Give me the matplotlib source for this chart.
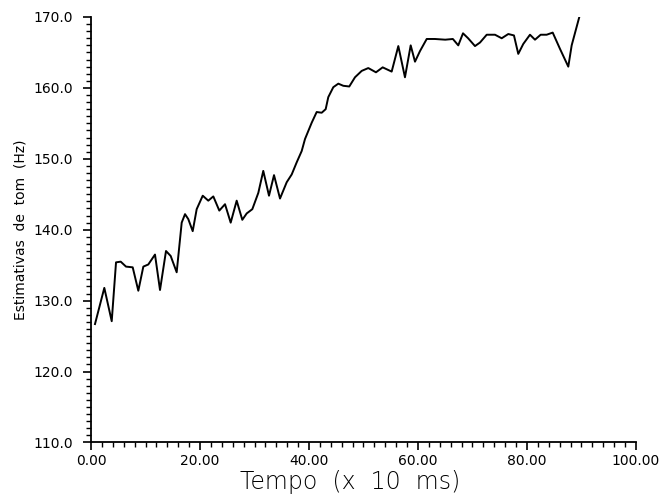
import matplotlib
matplotlib.use("Agg")
import matplotlib.pyplot as plt
from matplotlib.ticker import MultipleLocator, FormatStrFormatter

# pitch estimates
tempo = [0.73, 2.44, 3.80, 4.59, 5.45, 6.42, 7.65, 8.68, 9.60, 10.51,
         11.74, 12.66, 13.76, 14.62, 15.72, 16.64, 17.25, 17.85, 18.66, 19.39,
         20.50, 21.52, 22.44, 23.54, 24.59, 25.63, 26.73, 27.76, 28.57, 29.60,
         30.70, 31.61, 32.66, 33.58, 34.68, 35.91, 36.83, 37.74, 38.66, 39.27,
         40.50, 41.41, 42.33, 43.06, 43.54, 44.46, 45.38, 46.29, 47.39, 48.44,
         49.67, 50.88, 52.29, 53.52, 55.17, 56.39, 57.61, 58.66, 59.45, 60.37,
         61.60, 63.10, 65.00, 66.40, 67.39, 68.26, 69.20, 70.46, 71.38, 72.61,
         74.13, 75.36, 76.57, 77.61, 78.40, 79.32, 80.55, 81.47, 82.51, 83.61,
         84.72, 86.06, 87.58, 88.20, 89.60]
tom = [126.7, 131.8, 127.1, 135.4, 135.5, 134.8, 134.7, 131.4, 134.8, 135.1,
       136.5, 131.5, 137.0, 136.3, 134.0, 141.0, 142.2, 141.5, 139.8, 142.9,
       144.8, 144.1, 144.7, 142.7, 143.6, 141.0, 144.1, 141.4, 142.3, 142.9,
       145.2, 148.3, 144.8, 147.7, 144.4, 146.7, 147.8, 149.5, 151.1, 152.8,
       155.1, 156.6, 156.5, 157.0, 158.7, 160.1, 160.6, 160.3, 160.2, 161.5,
       162.4, 162.8, 162.2, 162.9, 162.3, 165.9, 161.5, 166.0, 163.7, 165.2,
       166.9, 166.9, 166.8, 166.9, 166.0, 167.7, 167.0, 165.9, 166.4, 167.5,
       167.5, 167.0, 167.6, 167.4, 164.8, 166.2, 167.5, 166.8, 167.5, 167.5,
       167.8, 165.5, 163.0, 166.0, 170.0]

fig = plt.figure(figsize=(6.6, 4.97), dpi=100)
ax = fig.add_axes([0.1379, 0.1097, 0.8257, 0.8561])
ax.plot(tempo, tom, color="black", lw=1.4)

ax.set_xlim(0, 100)
ax.set_ylim(110, 170)
ax.spines["top"].set_visible(False)
ax.spines["right"].set_visible(False)
ax.spines["left"].set_linewidth(1.3)
ax.spines["bottom"].set_linewidth(1.3)

ax.xaxis.set_major_locator(MultipleLocator(20))
ax.xaxis.set_minor_locator(MultipleLocator(2))
ax.yaxis.set_major_locator(MultipleLocator(10))
ax.yaxis.set_minor_locator(MultipleLocator(1))
ax.xaxis.set_major_formatter(FormatStrFormatter("%.2f"))
ax.yaxis.set_major_formatter(FormatStrFormatter("%.1f"))
ax.tick_params(which="major", direction="out", length=6, width=1.2, labelsize=10, pad=2)
ax.tick_params(which="minor", direction="out", length=3.5, width=1.0)
ax.tick_params(axis="y", which="major", pad=7)

ax.set_xlabel("Tempo  (x  10  ms)", fontsize=17, fontweight="light")
ax.xaxis.set_label_coords(0.476, -0.064)
ax.set_ylabel("Estimativas  de  tom  (Hz)", fontsize=10, labelpad=4)

fig.savefig("out.png", dpi=100)
